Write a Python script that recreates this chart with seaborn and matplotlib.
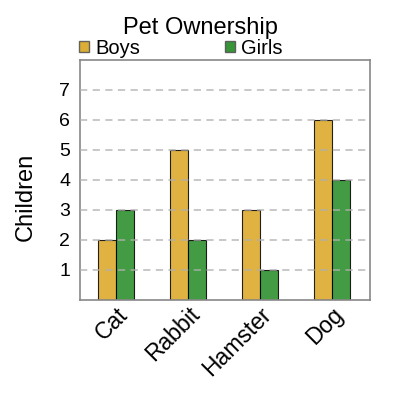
import matplotlib
matplotlib.use("Agg")
import matplotlib.pyplot as plt
import seaborn as sns
import pandas as pd
from matplotlib.patches import Patch

pets = ["Cat", "Rabbit", "Hamster", "Dog"]
boys = [2, 5, 3, 6]
girls = [3, 2, 1, 4]
groups = ["Boys", "Girls"]
colors = {"Boys": "#DAA520", "Girls": "#228B22"}

df = pd.DataFrame({
    "pet": pets * 2,
    "group": ["Boys"] * len(pets) + ["Girls"] * len(pets),
    "count": boys + girls,
})

sns.set_style("white")
plt.rcParams["font.family"] = ["Liberation Sans", "DejaVu Sans"]
plt.rcParams["text.color"] = "black"
plt.rcParams["axes.labelcolor"] = "black"
plt.rcParams["xtick.color"] = "black"
plt.rcParams["ytick.color"] = "black"

fig = plt.figure(figsize=(4, 4), dpi=100)
ax = fig.add_axes([0.2, 0.25, 0.725, 0.6])

sns.barplot(data=df, x="pet", y="count", hue="group", palette=colors,
            saturation=1, width=0.5, alpha=0.85, edgecolor="black",
            linewidth=0.8, ax=ax, legend=False)

ax.set_ylim(0, 8)
ax.set_xlim(-0.5, 3.53)
ax.set_yticks(range(1, 8))
ax.yaxis.grid(True, linestyle=(0, (4, 3)), color="#b0b0b0", linewidth=1.3, alpha=0.75)
ax.set_axisbelow(False)
ax.tick_params(axis="y", length=0, labelsize=14, pad=7)
ax.tick_params(axis="x", length=0, pad=2)
plt.setp(ax.get_xticklabels(), rotation=45, ha="right", rotation_mode="anchor", fontsize=16.5)
ax.set_xlabel("")
ax.set_ylabel("Children", fontsize=17)
ax.yaxis.set_label_coords(-0.148, 0.43)
for s in ax.spines.values():
    s.set_color("#888888")
    s.set_linewidth(1.2)

fig.text(0.5, 0.93, "Pet Ownership", fontsize=17, ha="center", va="center")
handles = [Patch(facecolor=colors[g], edgecolor="#555555", alpha=0.9, label=g) for g in groups]
fig.legend(handles=handles, loc="center left", bbox_to_anchor=(0.198, 0.88), ncol=2,
           frameon=False, fontsize=14.5, handlelength=0.5, handleheight=0.5,
           handletextpad=0.3, columnspacing=4.2, borderaxespad=0, borderpad=0)

fig.savefig("out.png", dpi=100)
